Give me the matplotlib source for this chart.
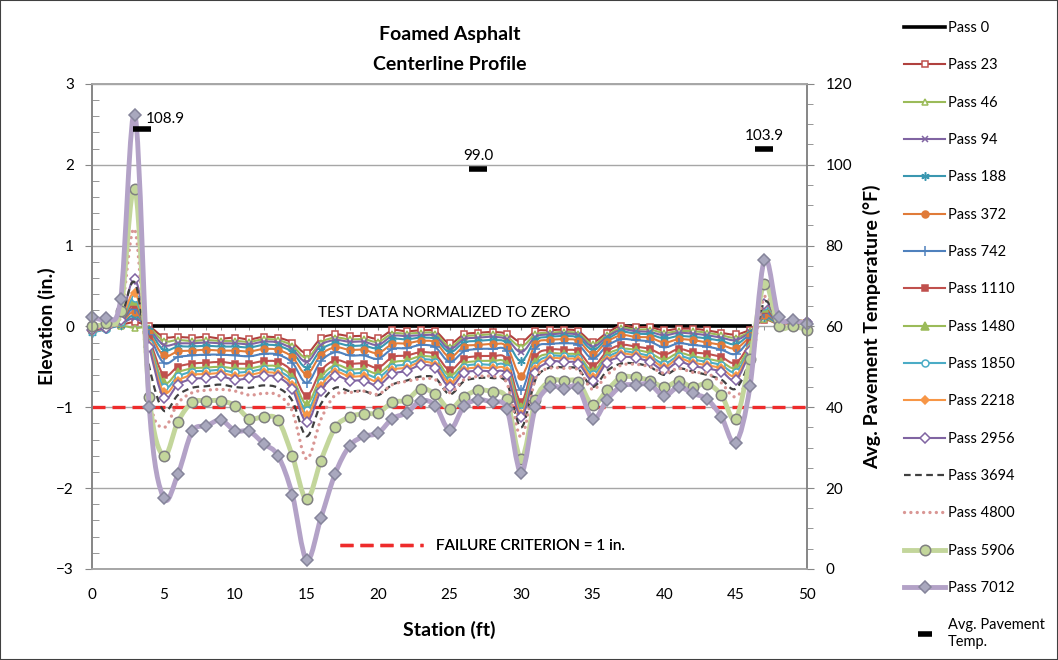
import numpy as np
import matplotlib
matplotlib.use('Agg')
import matplotlib.pyplot as plt
from matplotlib.path import Path
from matplotlib.patches import PathPatch, Rectangle
from matplotlib.lines import Line2D
from matplotlib.ticker import MultipleLocator

plt.rcParams['font.family'] = ['Lato', 'DejaVu Sans']

# Centerline elevation (in.) at each station, normalized to pass 0
station = list(range(51))

pass_0 = [np.nan] * 4 + [0.0] * 43 + [np.nan] * 4
pass_23 = [-0.03, 0.00, 0.02, 0.05, 0.00, -0.13, -0.13, -0.14, -0.13, -0.15,
           -0.14, -0.16, -0.13, -0.14, -0.20, -0.33, -0.15, -0.10, -0.12, -0.12,
           -0.15, -0.05, -0.06, -0.05, -0.06, -0.21, -0.10, -0.08, -0.07, -0.09,
           -0.19, -0.06, -0.05, -0.04, -0.06, -0.19, -0.08, 0.01, -0.01, -0.01,
           -0.05, -0.03, -0.03, -0.05, -0.08, -0.10, -0.04, 0.08, 0.03, 0.04, 0.03]
pass_46 = [-0.02, 0.00, 0.01, -0.02, -0.02, -0.18, -0.17, -0.18, -0.17, -0.18,
           -0.18, -0.19, -0.16, -0.17, -0.24, -0.39, -0.20, -0.14, -0.16, -0.16,
           -0.19, -0.09, -0.09, -0.08, -0.09, -0.25, -0.13, -0.11, -0.10, -0.13,
           -0.25, -0.10, -0.08, -0.07, -0.09, -0.22, -0.11, -0.02, -0.04, -0.04,
           -0.08, -0.06, -0.06, -0.08, -0.11, -0.14, -0.06, 0.09, 0.03, 0.04, 0.02]
pass_94 = [-0.04, -0.01, 0.03, 0.10, -0.03, -0.23, -0.21, -0.21, -0.20, -0.21,
           -0.21, -0.22, -0.19, -0.20, -0.28, -0.44, -0.23, -0.17, -0.19, -0.19,
           -0.23, -0.12, -0.12, -0.11, -0.12, -0.28, -0.16, -0.14, -0.13, -0.16,
           -0.32, -0.13, -0.10, -0.09, -0.11, -0.25, -0.13, -0.04, -0.06, -0.07,
           -0.11, -0.08, -0.09, -0.11, -0.14, -0.17, -0.07, 0.11, 0.04, 0.05, 0.03]
pass_188 = [-0.08, -0.03, 0.02, 0.14, -0.05, -0.29, -0.25, -0.25, -0.24, -0.25,
            -0.25, -0.26, -0.23, -0.24, -0.32, -0.51, -0.29, -0.21, -0.24, -0.24,
            -0.27, -0.16, -0.16, -0.14, -0.16, -0.32, -0.20, -0.18, -0.17, -0.20,
            -0.43, -0.17, -0.13, -0.12, -0.14, -0.29, -0.16, -0.07, -0.09, -0.10,
            -0.15, -0.12, -0.13, -0.15, -0.18, -0.22, -0.09, 0.12, 0.04, 0.06, 0.04]
pass_372 = [-0.06, -0.02, 0.04, 0.18, -0.08, -0.36, -0.31, -0.30, -0.29, -0.30,
            -0.30, -0.31, -0.28, -0.29, -0.38, -0.59, -0.35, -0.26, -0.29, -0.29,
            -0.33, -0.22, -0.21, -0.18, -0.20, -0.38, -0.25, -0.23, -0.22, -0.25,
            -0.61, -0.22, -0.17, -0.16, -0.18, -0.34, -0.19, -0.11, -0.13, -0.14,
            -0.20, -0.16, -0.17, -0.20, -0.23, -0.27, -0.12, 0.14, 0.05, 0.07, 0.05]
pass_742 = [-0.03, 0.00, 0.05, 0.22, -0.11, -0.45, -0.38, -0.36, -0.35, -0.35,
            -0.36, -0.37, -0.34, -0.35, -0.45, -0.70, -0.43, -0.32, -0.36, -0.36,
            -0.40, -0.28, -0.27, -0.23, -0.26, -0.44, -0.31, -0.28, -0.28, -0.31,
            -0.79, -0.28, -0.22, -0.21, -0.23, -0.40, -0.24, -0.16, -0.17, -0.19,
            -0.26, -0.21, -0.23, -0.25, -0.29, -0.34, -0.15, 0.17, 0.04, 0.05, 0.03]
pass_1110 = [-0.05, -0.02, 0.05, 0.27, -0.16, -0.60, -0.50, -0.46, -0.45, -0.44,
             -0.46, -0.46, -0.43, -0.44, -0.56, -0.86, -0.55, -0.42, -0.46, -0.46,
             -0.51, -0.38, -0.36, -0.32, -0.35, -0.54, -0.40, -0.37, -0.37, -0.41,
             -0.93, -0.38, -0.29, -0.29, -0.31, -0.49, -0.31, -0.23, -0.25, -0.28,
             -0.35, -0.28, -0.32, -0.34, -0.38, -0.45, -0.20, 0.20, 0.05, 0.06, 0.04]
pass_1480 = [-0.02, 0.01, 0.06, 0.31, -0.19, -0.69, -0.57, -0.52, -0.51, -0.50,
             -0.52, -0.52, -0.49, -0.50, -0.63, -0.96, -0.63, -0.48, -0.53, -0.53,
             -0.58, -0.45, -0.42, -0.37, -0.40, -0.61, -0.46, -0.43, -0.43, -0.47,
             -1.00, -0.44, -0.34, -0.34, -0.36, -0.55, -0.35, -0.28, -0.29, -0.33,
             -0.41, -0.33, -0.37, -0.40, -0.44, -0.51, -0.23, 0.23, 0.06, 0.08, 0.06]
pass_1850 = [-0.07, -0.03, 0.06, 0.35, -0.21, -0.75, -0.62, -0.56, -0.55, -0.54,
             -0.57, -0.56, -0.53, -0.55, -0.68, -1.04, -0.69, -0.53, -0.58, -0.58,
             -0.63, -0.50, -0.47, -0.41, -0.44, -0.66, -0.50, -0.47, -0.48, -0.51,
             -1.05, -0.49, -0.37, -0.37, -0.39, -0.59, -0.39, -0.31, -0.33, -0.37,
             -0.46, -0.37, -0.41, -0.44, -0.48, -0.56, -0.26, 0.25, 0.05, 0.07, 0.05]
pass_2218 = [-0.06, -0.02, 0.07, 0.41, -0.23, -0.81, -0.67, -0.60, -0.59, -0.58,
             -0.61, -0.60, -0.57, -0.59, -0.73, -1.10, -0.74, -0.57, -0.62, -0.62,
             -0.68, -0.54, -0.51, -0.44, -0.48, -0.70, -0.54, -0.51, -0.52, -0.55,
             -1.08, -0.53, -0.40, -0.40, -0.42, -0.63, -0.42, -0.34, -0.36, -0.40,
             -0.50, -0.40, -0.45, -0.48, -0.52, -0.61, -0.28, 0.27, 0.06, 0.08, 0.06]
pass_2956 = [-0.05, -0.02, 0.08, 0.58, -0.25, -0.88, -0.72, -0.65, -0.64, -0.62,
             -0.66, -0.64, -0.61, -0.63, -0.78, -1.18, -0.80, -0.62, -0.67, -0.67,
             -0.73, -0.59, -0.55, -0.48, -0.52, -0.75, -0.58, -0.55, -0.56, -0.60,
             -1.12, -0.58, -0.44, -0.44, -0.46, -0.67, -0.45, -0.38, -0.39, -0.44,
             -0.54, -0.44, -0.49, -0.52, -0.56, -0.66, -0.30, 0.28, 0.06, 0.08, 0.05]
pass_3694 = [-0.04, -0.01, 0.10, 0.54, -0.50, -1.04, -0.85, -0.76, -0.74, -0.72,
             -0.75, -0.76, -0.73, -0.76, -0.92, -1.36, -0.96, -0.76, -0.80, -0.80,
             -0.85, -0.72, -0.67, -0.62, -0.64, -0.84, -0.68, -0.64, -0.64, -0.70,
             -1.25, -0.66, -0.51, -0.51, -0.53, -0.75, -0.55, -0.46, -0.46, -0.50,
             -0.60, -0.52, -0.56, -0.60, -0.66, -0.77, -0.40, 0.30, 0.06, 0.07, 0.04]
pass_4800 = [-0.02, 0.00, 0.12, 1.19, -0.85, -1.25, -0.95, -0.82, -0.79, -0.78,
             -0.80, -0.85, -0.83, -0.85, -1.05, -1.64, -1.15, -0.85, -0.82, -0.80,
             -0.84, -0.72, -0.68, -0.65, -0.66, -0.82, -0.66, -0.62, -0.62, -0.70,
             -1.37, -0.65, -0.52, -0.52, -0.54, -0.78, -0.60, -0.48, -0.47, -0.50,
             -0.58, -0.52, -0.57, -0.58, -0.70, -0.87, -0.55, 0.36, 0.05, 0.04, 0.00]
pass_5906 = [0.00, 0.04, 0.19, 1.70, -0.87, -1.60, -1.18, -0.94, -0.92, -0.92,
             -0.98, -1.14, -1.12, -1.16, -1.60, -2.14, -1.66, -1.25, -1.12, -1.08,
             -1.07, -0.94, -0.91, -0.77, -0.84, -1.02, -0.87, -0.79, -0.81, -0.90,
             -1.64, -0.91, -0.68, -0.67, -0.69, -0.97, -0.79, -0.63, -0.63, -0.67,
             -0.75, -0.68, -0.75, -0.71, -0.85, -1.14, -0.40, 0.52, 0.01, 0.00, -0.04]
pass_7012 = [0.11, 0.10, 0.34, 2.62, -1.00, -2.12, -1.83, -1.30, -1.23, -1.16,
             -1.29, -1.30, -1.45, -1.60, -2.08, -2.89, -2.37, -1.82, -1.48, -1.36,
             -1.32, -1.14, -1.07, -0.92, -0.98, -1.28, -0.99, -0.91, -0.94, -1.02,
             -1.81, -1.00, -0.75, -0.77, -0.76, -1.15, -0.91, -0.74, -0.72, -0.72,
             -0.86, -0.75, -0.83, -0.90, -1.12, -1.44, -0.74, 0.82, 0.12, 0.08, 0.03]

# average pavement temperature (deg F) during testing
temp_station = [3.5, 27, 47]
temp_avg = [108.9, 99.0, 103.9]

failure_station = [0, 50]
failure_elev = [-1.0, -1.0]

# label, values, color, linewidth, linestyle, marker, markersize, face, edge
series = [
    ('Pass 23', pass_23, '#B0413E', 1.5, '-', 's', 4.5, 'white', '#C0504D'),
    ('Pass 46', pass_46, '#9BBB59', 1.5, '-', '^', 5, 'white', '#9BBB59'),
    ('Pass 94', pass_94, '#8064A2', 1.5, '-', 'x', 5, '#8064A2', '#8064A2'),
    ('Pass 188', pass_188, '#3A97B0', 1.5, '-', (6, 2, 0), 6, '#3A97B0', '#3A97B0'),
    ('Pass 372', pass_372, '#E07B39', 1.5, '-', 'o', 5, '#E07B39', '#E07B39'),
    ('Pass 742', pass_742, '#4F81BD', 1.5, '-', '+', 7, '#4F81BD', '#4F81BD'),
    ('Pass 1110', pass_1110, '#C0504D', 1.5, '-', 's', 5, '#C0504D', '#C0504D'),
    ('Pass 1480', pass_1480, '#9BBB59', 1.5, '-', '^', 5.5, '#9BBB59', '#9BBB59'),
    ('Pass 1850', pass_1850, '#4BACC6', 1.5, '-', 'o', 5, 'white', '#4BACC6'),
    ('Pass 2218', pass_2218, '#F79646', 1.5, '-', 'D', 4.5, '#F79646', '#F79646'),
    ('Pass 2956', pass_2956, '#8064A2', 1.5, '-', 'D', 5.5, 'white', '#8064A2'),
    ('Pass 3694', pass_3694, '#404040', 1.6, (0, (3, 2)), None, 0, None, None),
    ('Pass 4800', pass_4800, '#D99694', 2.4, (0, (0.01, 1.9)), None, 0, None, None),
    ('Pass 5906', pass_5906, '#C3D69B', 3.5, '-', 'o', 7.5, '#C3D69B', '#808080'),
    ('Pass 7012', pass_7012, '#B3A2C7', 3.5, '-', 'D', 6.5, '#A9A8BE', '#85849A'),
]


def smooth_path(x, y):
    # cubic Bezier through every point, tangents from the neighbours
    x = np.asarray(x, float)
    y = np.asarray(y, float)
    n = len(x)
    verts = [(x[0], y[0])]
    codes = [Path.MOVETO]
    for i in range(n - 1):
        a = max(i - 1, 0)
        b = min(i + 2, n - 1)
        c1 = (x[i] + (x[i + 1] - x[a]) / 6, y[i] + (y[i + 1] - y[a]) / 6)
        c2 = (x[i + 1] - (x[b] - x[i]) / 6, y[i + 1] - (y[b] - y[i]) / 6)
        verts += [c1, c2, (x[i + 1], y[i + 1])]
        codes += [Path.CURVE4] * 3
    return Path(verts, codes)


fig = plt.figure(figsize=(10.58, 6.6), dpi=100)
ax = fig.add_axes([0.087, 0.138, 0.676, 0.735])
ax2 = ax.twinx()

ax.plot(station, pass_0, color='black', lw=2.6, zorder=2)
handles = [Line2D([], [], color='black', lw=2.6, label='Pass 0')]

for k, (label, vals, color, lw, ls, mk, ms, mfc, mec) in enumerate(series):
    z = 3 + k * 0.1
    patch = PathPatch(smooth_path(station, vals), facecolor='none', edgecolor=color,
                      lw=lw, linestyle=ls, capstyle='round' if lw > 2 else 'butt',
                      joinstyle='round', zorder=z)
    ax.add_patch(patch)
    if mk is not None:
        ax.plot(station, vals, linestyle='none', marker=mk, ms=ms, mfc=mfc, mec=mec,
                mew=1.1, zorder=z + 0.05, clip_on=False)
    h = Line2D([], [], color=color, lw=lw, linestyle=ls, marker=mk, ms=ms,
               mfc=mfc, mec=mec, mew=1.1, label=label)
    if ls != '-':
        h.set_dash_capstyle('round' if lw > 2 else 'butt')
    handles.append(h)

fail, = ax.plot(failure_station, failure_elev, color='#EE2B2B', lw=2.4,
                linestyle=(0, (3.9, 2.1)), zorder=2.9,
                label='FAILURE CRITERION = 1 in.')

ax.text(24.6, 0.17, 'TEST DATA NORMALIZED TO ZERO', ha='center', va='center',
        fontsize=11, zorder=10)

# temperature marks on the right-hand axis
ax2.plot(temp_station, temp_avg, linestyle='none', marker='_', ms=13, mew=4,
         color='black')
offsets = [(3, 2), (0, 4), (0, 4)]
aligns = ['left', 'center', 'center']
for xs, t, off, al in zip(temp_station, temp_avg, offsets, aligns):
    ax2.annotate(f'{t:.1f}', (xs, t), xytext=off, textcoords='offset points',
                 ha=al, va='bottom', fontsize=11)
handles.append(Line2D([], [], linestyle='none', marker='_', ms=10, mew=4,
                      color='black', label='Avg. Pavement\nTemp.'))

# axes
grid_c = '#A6A6A6'
ax.set_xlim(0, 50)
ax.set_ylim(-3, 3)
ax2.set_ylim(0, 120)
ax.set_xticks(range(0, 51, 5))
ax.set_yticks(range(-3, 4))
ax.yaxis.set_minor_locator(MultipleLocator(0.2))
ax2.set_yticks(range(0, 121, 20))
ax2.yaxis.set_minor_locator(MultipleLocator(5))
ax.set_axisbelow(True)
ax.grid(axis='y', color=grid_c, lw=1)

for a in (ax, ax2):
    for s in a.spines.values():
        s.set_color('#868686')
        s.set_linewidth(1.2)
    a.spines['top'].set_color(grid_c)
    a.spines['bottom'].set_color(grid_c)

ax.tick_params(axis='x', length=0, pad=14, labelsize=11)
ax.tick_params(axis='y', which='major', direction='out', length=5, color='#868686',
               pad=8, labelsize=11)
ax.tick_params(axis='y', which='minor', direction='in', length=5, color='#868686')
ax2.tick_params(axis='y', which='major', direction='out', length=5, color='#868686',
                pad=8, labelsize=11)
ax2.tick_params(axis='y', which='minor', direction='out', length=4, color='#868686')

zero_ax = ax.secondary_xaxis(0.5)
zero_ax.set_xticks(range(0, 51, 5))
zero_ax.xaxis.set_minor_locator(MultipleLocator(1))
zero_ax.tick_params(which='both', length=3, color='#7F7F7F', labeltop=False,
                    labelbottom=False, direction='in')
for s in zero_ax.spines.values():
    s.set_visible(False)

ax.set_ylabel('Elevation (in.)', fontsize=14, fontweight='bold', labelpad=0)
ax2.set_ylabel('Avg. Pavement Temperature (°F)', fontsize=14, fontweight='bold',
               labelpad=8)
ax.set_xlabel('Station (ft)', fontsize=14, fontweight='bold', labelpad=13)
ax.set_title('Foamed Asphalt\nCenterline Profile', fontsize=14, fontweight='bold',
             linespacing=1.9, pad=10)

fail_leg = ax.legend(handles=[fail], loc='center left', bbox_to_anchor=(0.347, 0.047),
                     frameon=False, fontsize=11, handlelength=5.4, handletextpad=0.9,
                     borderpad=0, borderaxespad=0)
ax.add_artist(fail_leg)

fig.legend(handles=handles, loc='upper left', bbox_to_anchor=(0.848, 0.979),
           frameon=False, fontsize=10.5, handlelength=2.75, handletextpad=0.25,
           labelspacing=1.6, borderpad=0)

fig.patches.append(Rectangle((0, 0), 1, 1, transform=fig.transFigure, fill=False,
                             edgecolor='#404040', lw=1.5))

fig.savefig('out.png', dpi=100)
